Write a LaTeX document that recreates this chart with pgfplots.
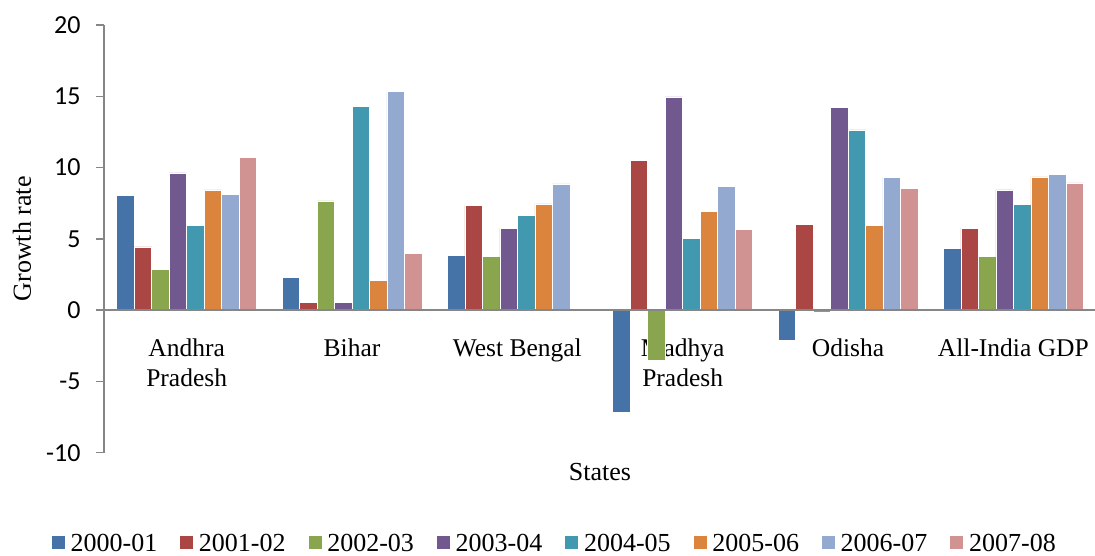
\documentclass[border=0pt]{standalone}
\usepackage{pgfplots}
\pgfplotsset{compat=1.18}
\usepackage{fontspec}
\setmainfont{Liberation Serif}
\newfontfamily\carlito{Carlito}
\definecolor{c1}{HTML}{4572A7}
\definecolor{c2}{HTML}{AA4643}
\definecolor{c3}{HTML}{89A54E}
\definecolor{c4}{HTML}{71588F}
\definecolor{c5}{HTML}{4198AF}
\definecolor{c6}{HTML}{DB843D}
\definecolor{c7}{HTML}{93A9CF}
\definecolor{c8}{HTML}{D19392}
\definecolor{axisgray}{HTML}{868686}
\begin{document}
\begin{tikzpicture}
\useasboundingbox (0,0) rectangle (1095bp,556bp);
\begin{axis}[
  at={(104bp,103.3bp)}, anchor=south west,
  scale only axis, width=992bp, height=427.7bp,
  xmin=-0.5, xmax=5.5, ymin=-10, ymax=20,
  axis x line*=middle, axis y line*=left,
  axis line style={draw=axisgray, line width=1.5bp},
  ybar=0pt, bar width=0.1058,
  xtick={0,1,2,3,4,5},
  xticklabels={{Andhra\\Pradesh},Bihar,{West Bengal},{Madhya\\Pradesh},Odisha,{All-India GDP}},
  x tick label style={align=center, font=\fontsize{25.5bp}{30bp}\selectfont, yshift=-17bp},
  xtick style={draw=none},
  ytick={-10,-5,0,5,10,15,20},
  yticklabels={-10,-5,0,5,10,15,20},
  y tick label style={font=\carlito\fontsize{26bp}{30bp}\selectfont, xshift=-12bp},
  tick align=outside, major tick length=8bp,
  ytick style={draw=axisgray, line width=1.5bp},
  xlabel={States},
  ylabel={Growth rate},
  every axis x label/.style={at={(axis description cs:0.5,0)}, anchor=base, yshift=-28bp, font=\fontsize{26bp}{30bp}\selectfont},
  every axis y label/.style={at={(axis description cs:0,0.5)}, xshift=-82bp, anchor=center, rotate=90, font=\fontsize{26bp}{30bp}\selectfont},
  legend columns=8,
  legend image code/.code={\fill[#1, draw=none] (0bp,-5.6bp) rectangle (13bp,7.4bp);},
  legend style={draw=none, fill=none, inner sep=0pt, at={(axis description cs:0,0)}, anchor=south west,
    xshift=-52.3bp, yshift=-100bp, font=\fontsize{26bp}{30bp}\selectfont, nodes={inner sep=0pt},
    /tikz/every odd column/.style={column sep=5.7bp},
    /tikz/every even column/.style={column sep=23bp}},
]
\addplot[fill=c1, draw=white, line width=0.5bp] coordinates {(0,8.03) (1,2.31) (2,3.85) (3,-7.17) (4,-2.14) (5,4.31)};
\addlegendentry{2000-01}
\addplot[fill=c2, draw=white, line width=0.5bp] coordinates {(0,4.43) (1,0.55) (2,7.33) (3,10.51) (4,6.02) (5,5.76)};
\addlegendentry{2001-02}
\addplot[fill=c3, draw=white, line width=0.5bp] coordinates {(0,2.87) (1,7.66) (2,3.75) (3,-3.49) (4,-0.15) (5,3.75)};
\addlegendentry{2002-03}
\addplot[fill=c4, draw=white, line width=0.5bp] coordinates {(0,9.62) (1,0.53) (2,5.74) (3,14.95) (4,14.2) (5,8.43)};
\addlegendentry{2003-04}
\addplot[fill=c5, draw=white, line width=0.5bp] coordinates {(0,5.95) (1,14.27) (2,6.65) (3,5.04) (4,12.64) (5,7.43)};
\addlegendentry{2004-05}
\addplot[fill=c6, draw=white, line width=0.5bp] coordinates {(0,8.43) (1,2.10) (2,7.45) (3,6.94) (4,5.95) (5,9.34)};
\addlegendentry{2005-06}
\addplot[fill=c7, draw=white, line width=0.5bp] coordinates {(0,8.13) (1,15.37) (2,8.85) (3,8.69) (4,9.32) (5,9.53)};
\addlegendentry{2006-07}
\addplot[fill=c8, draw=white, line width=0.5bp] coordinates {(0,10.72) (1,3.99) (3,5.67) (4,8.55) (5,8.92)};
\addlegendentry{2007-08}
\draw[axisgray, line width=1.5bp] (axis cs:-0.5,0) -- (axis cs:5.5,0);
\end{axis}
\end{tikzpicture}
\end{document}
